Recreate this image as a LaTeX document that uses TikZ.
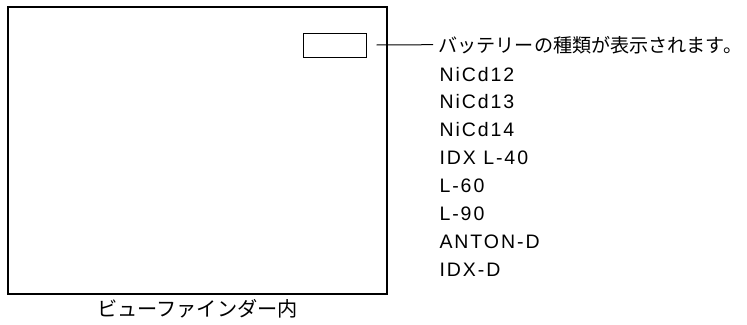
\documentclass[tikz,border=0pt]{standalone}
\usepackage{fontspec}
\setmainfont{Liberation Sans}[LetterSpace=10]
\newfontfamily\jpfont{Noto Sans CJK JP}
\usetikzlibrary{positioning}

\tikzset{
  jp/.style={font=\jpfont\fontsize{20.2}{24}\selectfont},
  item/.style={anchor=base west, inner sep=0pt}
}

\begin{document}
\begin{tikzpicture}[x=1pt, y=-1pt, font=\fontsize{19.5}{24}\selectfont, line width=1pt]
    \useasboundingbox (0,0) rectangle (747,324);
    % viewfinder frame and the battery display
    \node[draw, line width=1.3pt, minimum width=379pt, minimum height=287pt, inner sep=0pt] (finder) at (197.5,150.5) {};
    \node[draw, minimum width=63pt, minimum height=24pt, inner sep=0pt] (disp) at (334.5,45) {};
    \node[jp, below=4pt of finder, inner sep=0pt] (cap) {ビューファインダー内};
    % callout
    \node[jp, item, font=\jpfont\fontsize{19.1}{24}\selectfont] (head) at (438,52) {バッテリーの種類が表示されます。};
    \draw ([xshift=10pt]disp.east) -- ([xshift=-5pt]head.west);
    \foreach \txt [count=\i] in {NiCd12, NiCd13, NiCd14, IDX L-40, L-60, L-90, ANTON-D, IDX-D}
        \node[item] (bat\i) at (439, {53.1+27.9*\i}) {\txt};
\end{tikzpicture}
\end{document}
